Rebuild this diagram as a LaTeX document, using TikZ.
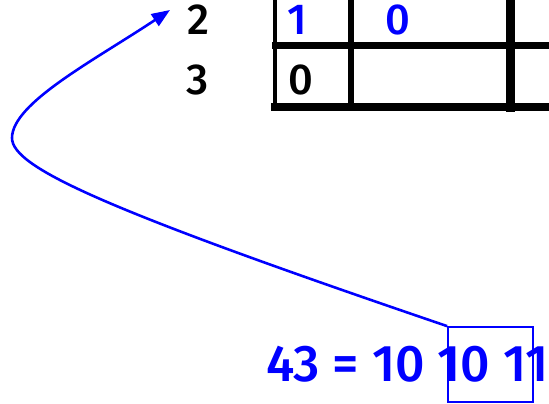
\documentclass[tikz,border=0pt]{standalone}
\usepackage{fontspec}
\setmainfont{Fira Sans}[UprightFont=* Medium]
\usetikzlibrary{arrows.meta, positioning}
\definecolor{pureblue}{HTML}{0000FF}

\begin{document}
\begin{tikzpicture}[
    x=0.03cm, y=-0.03cm,
    % digits in the table
    digit/.style={font=\fontsize{37}{42}\selectfont, inner sep=0pt},
    bluedigit/.style={digit, text=pureblue},
    % table rules
    rule/.style={draw=black, line cap=rect},
    % the binary number and its group box
    number/.style={font=\fontsize{44}{49}\selectfont, text=pureblue, inner sep=0pt},
    groupbox/.style={draw=pureblue, line width=1.5pt, minimum width=85*0.03cm, minimum height=75*0.03cm, inner sep=0pt},
    arrow/.style={-{Triangle[length=5.5mm, width=4.2mm]}, draw=pureblue, line width=2.2pt}
]
    \useasboundingbox (0,0) rectangle (549,404);

    % --- TABLE ---
    \draw[rule, line width=4.2pt] (275,0) -- (275,107);
    \draw[rule, line width=5pt] (351,0) -- (351,107);
    \draw[rule, line width=8.5pt] (510.5,0) -- (510.5,107);
    \draw[rule, line width=5.5pt] (275,45.5) -- (552,45.5);
    \draw[rule, line width=6pt] (275,107) -- (552,107);

    \node[digit] (row2) at (198,20) {2};
    \node[digit] (row3) at (198,80) {3};
    \node[bluedigit] (c21) at (297,20) {1};
    \node[bluedigit] (c22) at (398,20) {0};
    \node[digit] (c31) at (301,80) {0};

    % --- NUMBER ---
    \node[number, anchor=base west] (num) at (266,382) {43 = 10 10 11};
    \node[groupbox] (grp) at (490.5,364.5) {};

    \coordinate (bend) at (12,138);
    \draw[arrow] (grp.north west) .. controls (109,211) and (12,168) .. (bend)
        .. controls (12,103) and (95,60) .. (170,10);

\end{tikzpicture}
\end{document}
